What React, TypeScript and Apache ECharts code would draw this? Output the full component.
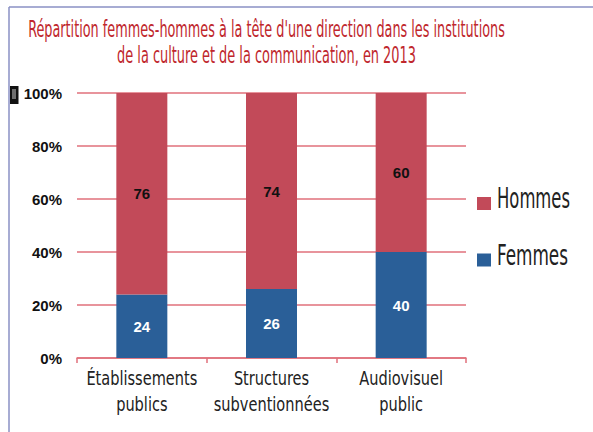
import React, { useEffect, useRef } from "react";
import * as echarts from "echarts";

const titleLines = [
  "Répartition femmes-hommes à la tête d'une direction dans les institutions",
  "de la culture et de la communication, en 2013",
];
const categories = ["Établissements\npublics", "Structures\nsubventionnées", "Audiovisuel\npublic"];
const femmes = [24, 26, 40];
const hommes = [76, 74, 60];
const seriesNames = ["Femmes", "Hommes"];
const axisMin = 0;
const axisMax = 100;
const axisStep = 20;

const NARROW = '"Liberation Sans Narrow", "DejaVu Sans Condensed", "Arial Narrow", sans-serif';
const BOLD = '"Liberation Sans", Arial, sans-serif';
const RED = "#c24a59";
const BLUE = "#2a5f98";
const GRID = "#e0707b";

function measure(text: string, size: number, family: string) {
  const c = document.createElement("canvas").getContext("2d");
  if (!c) return 1;
  c.font = `${size}px ${family}`;
  return c.measureText(text).width || 1;
}

export default function App() {
  const ref = useRef<HTMLDivElement>(null);
  useEffect(() => {
    document.body.style.margin = "0";
    if (!ref.current) return;
    const chart = echarts.init(ref.current, null, { renderer: "svg" });

    const titleSize = 23;
    const titleTargets = [477, 299];
    const titleY = [29, 55.5];
    const titleEls = titleLines.map((t, i) => ({
      type: "text",
      x: 266.5,
      y: titleY[i],
      scaleX: titleTargets[i] / measure(t, titleSize, NARROW),
      style: {
        text: t,
        x: 0,
        y: 0,
        fill: "#c0272d",
        font: `${titleSize}px ${NARROW}`,
        align: "center",
        verticalAlign: "middle",
      },
    }));

    const legendSize = 29;
    const legendItems = [
      { name: seriesNames[1], color: RED, y: 198.5, w: 73 },
      { name: seriesNames[0], color: BLUE, y: 255, w: 71 },
    ];
    const legendEls: any[] = [];
    legendItems.forEach((it) => {
      legendEls.push({
        type: "rect",
        shape: { x: 477, y: it.y - 1.5, width: 14, height: 13 },
        style: { fill: it.color },
      });
      legendEls.push({
        type: "text",
        x: 497,
        y: it.y,
        scaleX: it.w / measure(it.name, legendSize, NARROW),
        style: {
          text: it.name,
          x: 0,
          y: 0,
          fill: "#222",
          font: `${legendSize}px ${NARROW}`,
          align: "left",
          verticalAlign: "middle",
        },
      });
    });

    const frame = [
      { type: "line", shape: { x1: 9, y1: 7, x2: 593, y2: 7 }, style: { stroke: "#8a90c4", lineWidth: 1.5 } },
      { type: "line", shape: { x1: 9, y1: 7, x2: 9, y2: 432 }, style: { stroke: "#8a90c4", lineWidth: 1.5 } },
      { type: "rect", shape: { x: 10, y: 86, width: 8.5, height: 18 }, style: { fill: "#111" } },
      { type: "rect", shape: { x: 12, y: 89, width: 4, height: 10 }, style: { fill: "#6e6e6e" } },
    ];

    const catSize = 20;
    const catScale = 111 / measure("Établissements", catSize, NARROW);
    const catLineY = [377.7, 404.2];

    chart.setOption({
      animation: false,
      grid: { left: 77, right: 127, top: 93, bottom: 74, containLabel: false },
      xAxis: {
        type: "category",
        data: categories,
        axisLine: { show: true, lineStyle: { color: GRID, width: 1.5 } },
        axisTick: { show: true, length: 5, lineStyle: { color: GRID, width: 1.5 } },
        axisLabel: { show: false },
      },
      yAxis: {
        type: "value",
        min: axisMin,
        max: axisMax,
        interval: axisStep,
        axisLine: { show: false },
        axisTick: { show: false },
        splitLine: { show: true, lineStyle: { color: GRID, width: 1.5 } },
        axisLabel: {
          formatter: "{value}%",
          margin: 15,
          fontFamily: BOLD,
          fontWeight: "bold",
          fontSize: 15,
          color: "#111",
        },
      },
      series: [
        {
          name: seriesNames[0],
          type: "bar",
          stack: "total",
          data: femmes,
          barWidth: 51,
          itemStyle: { color: BLUE },
          label: {
            show: true,
            position: "inside",
            color: "#fff",
            fontFamily: BOLD,
            fontWeight: "bold",
            fontSize: 15,
          },
        },
        {
          name: seriesNames[1],
          type: "bar",
          stack: "total",
          data: hommes,
          barWidth: 51,
          itemStyle: { color: RED },
          label: {
            show: true,
            position: "inside",
            color: "#111",
            fontFamily: BOLD,
            fontWeight: "bold",
            fontSize: 15,
          },
        },
        {
          name: "categoryLabels",
          type: "custom",
          silent: true,
          clip: false,
          data: categories.map((c, i) => [i, 0]),
          renderItem: (params: any, api: any) => {
            const p = api.coord([api.value(0), 0]);
            const lines = categories[params.dataIndex].split("\n");
            return {
              type: "group",
              children: lines.map((ln, k) => ({
                type: "text",
                x: p[0],
                y: catLineY[k],
                scaleX: catScale,
                style: {
                  text: ln,
                  x: 0,
                  y: 0,
                  fill: "#222",
                  font: `${catSize}px ${NARROW}`,
                  align: "center",
                  verticalAlign: "middle",
                },
              })),
            };
          },
        },
      ],
      graphic: [...frame, ...titleEls, ...legendEls],
    });
    return () => chart.dispose();
  }, []);
  return <div ref={ref} style={{ width: 593, height: 432 }} />;
}
